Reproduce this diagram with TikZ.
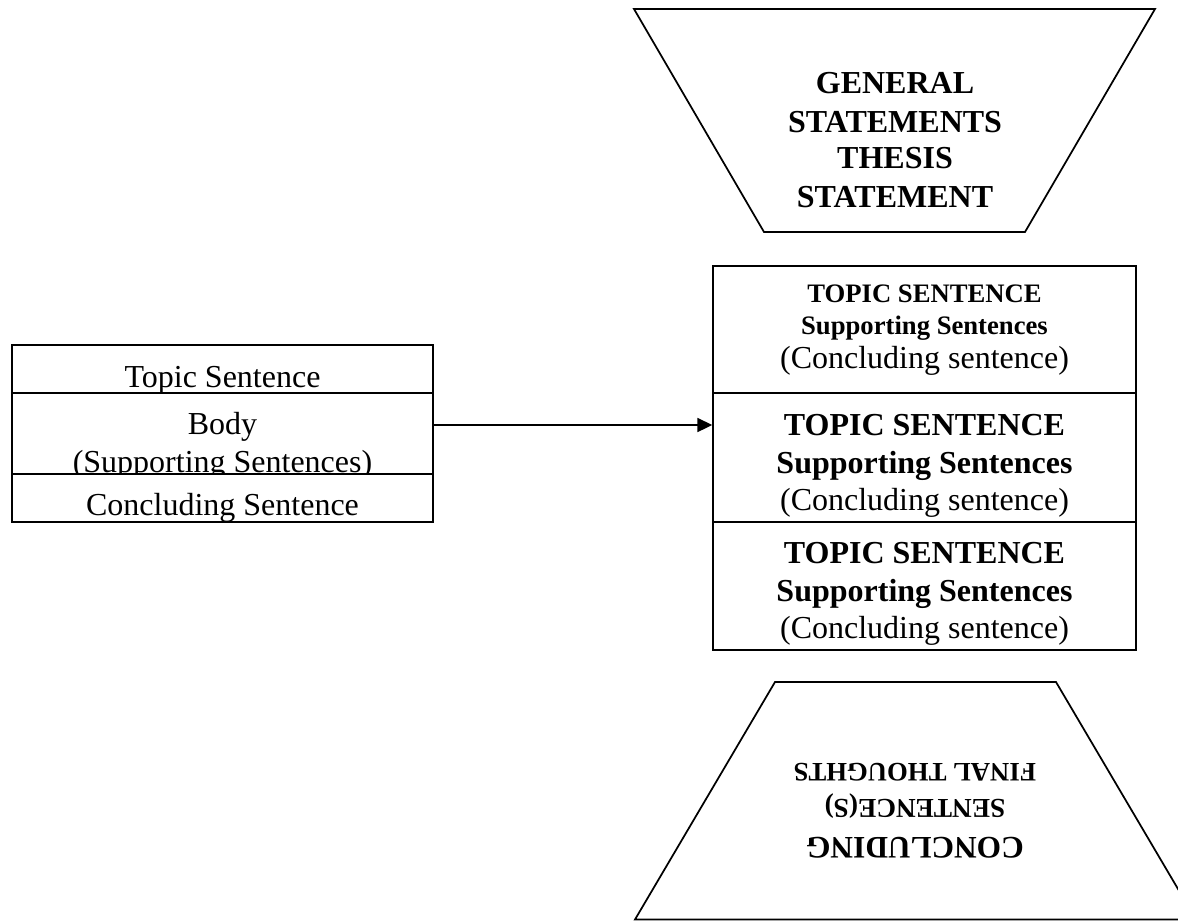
\documentclass[tikz,border=0pt]{standalone}
\usepackage{fontspec}
\setmainfont{Liberation Serif}
\usetikzlibrary{arrows.meta}

\tikzset{
  box/.style={draw, fill=white, inner sep=0pt, line width=1.3pt},
  txtline/.style={anchor=base, inner sep=0pt},
  big/.style={txtline, font=\fontsize{24}{28}\selectfont},
  bigb/.style={txtline, font=\fontsize{24}{28}\selectfont\bfseries},
  smallb/.style={txtline, font=\fontsize{20}{24}\selectfont\bfseries},
}

\begin{document}
\begin{tikzpicture}[x=0.75pt, y=-0.75pt]
        \useasboundingbox (0, 0) rectangle (1178, 921);

        % introduction
        \draw[line width=1.3pt] (634, 9) -- (1155, 9) -- (1025, 232) -- (764, 232) -- cycle;
        \node[bigb] at (895, 93)   (gen)  {GENERAL};
        \node[bigb] at (895, 132)  (st)   {STATEMENTS};
        \node[bigb] at (895, 168)  (th)   {THESIS};
        \node[bigb] at (895, 207)  (st2)  {STATEMENT};

        % one paragraph
        \node[box, minimum width=315.75pt, minimum height=36pt] at (222.5, 369) (ts) {};
        \node[big] at (222.5, 387)  (ts-t)  {Topic Sentence};
        \node[box, minimum width=315.75pt, minimum height=60.75pt] at (222.5, 433.5) (body) {};
        \node[big] at (222.5, 434)  (body-t)  {Body};
        \node[big] at (222.5, 472)  (body-s)  {(Supporting Sentences)};
        \node[box, minimum width=315.75pt, minimum height=36pt] at (222.5, 498) (cs) {};
        \node[big] at (222.5, 515)  (cs-t)  {Concluding Sentence};

        % body paragraphs
        \node[box, minimum width=317.25pt, minimum height=95.25pt] at (924.5, 329.5) (p1) {};
        \node[smallb] at (924.5, 302)  (p1-a)  {TOPIC SENTENCE};
        \node[smallb] at (924.5, 334)  (p1-b)  {Supporting Sentences};
        \node[big]    at (924.5, 368)  (p1-c)  {(Concluding sentence)};
        \node[box, minimum width=317.25pt, minimum height=96.75pt] at (924.5, 457.5) (p2) {};
        \node[bigb] at (924.5, 435)  (p2-a)  {TOPIC SENTENCE};
        \node[bigb] at (924.5, 473)  (p2-b)  {Supporting Sentences};
        \node[big]  at (924.5, 510)  (p2-c)  {(Concluding sentence)};
        \node[box, minimum width=317.25pt, minimum height=96pt] at (924.5, 586) (p3) {};
        \node[bigb] at (924.5, 563)  (p3-a)  {TOPIC SENTENCE};
        \node[bigb] at (924.5, 601)  (p3-b)  {Supporting Sentences};
        \node[big]  at (924.5, 638)  (p3-c)  {(Concluding sentence)};

        \coordinate (a) at (0, 425);
        \draw[line width=1.3pt, -{Triangle[length=11pt, width=10.5pt]}] (body.east |- a) -- (p2.west |- a);

        % conclusion, upside down
        \draw[line width=1.3pt] (775, 682) -- (1056, 682) -- (1196, 919.5) -- (635, 919.5) -- cycle;
        \node[txtline, rotate=180, font=\fontsize{20}{24}\selectfont\bfseries] at (915, 763) (fin) {FINAL THOUGHTS};
        \node[txtline, rotate=180, font=\fontsize{20.5}{24}\selectfont\bfseries] at (915, 799) (sen) {SENTENCE(S)};
        \node[txtline, rotate=180, font=\fontsize{23.5}{28}\selectfont\bfseries] at (915, 837) (con) {CONCLUDING};
    \end{tikzpicture}
\end{document}
